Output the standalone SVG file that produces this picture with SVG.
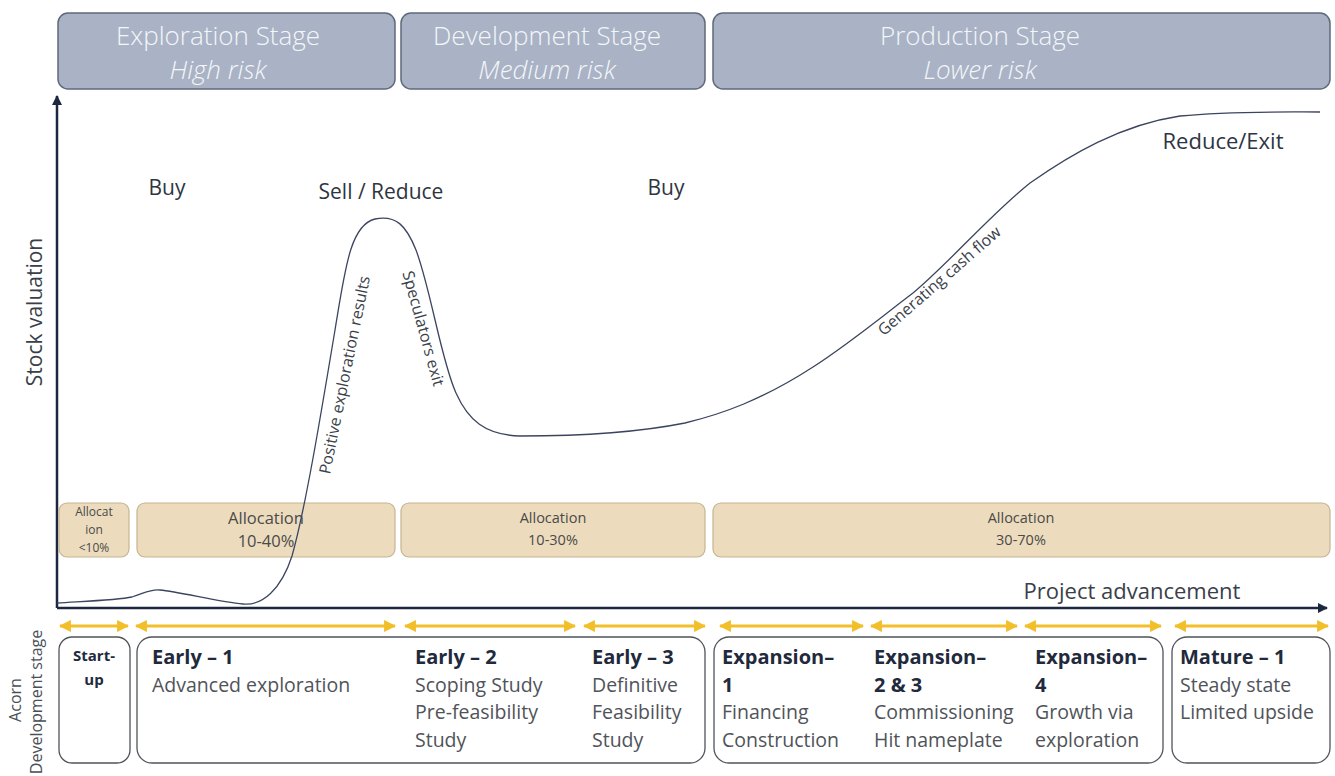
<svg xmlns="http://www.w3.org/2000/svg" width="1335" height="776" viewBox="0 0 1335 776">
<style>
text{font-family:"Open Sans","Liberation Sans",sans-serif;fill:#3a3f4a}
.hdr{fill:#a9b3c5;stroke:#5f6a7c;stroke-width:1.5}
.hdrt{fill:#f4f6f9;font-size:26px;font-weight:300;text-anchor:middle}
.hdri{fill:#f4f6f9;font-size:26px;font-weight:300;text-anchor:middle;font-style:italic}
.alloc{fill:#ecdcbd;stroke:#c6b490;stroke-width:1.2}
.at{font-size:14.5px;text-anchor:middle;fill:#4a4a4a}
.atb{font-size:16.5px;text-anchor:middle;fill:#4a4a4a}
.ats{font-size:12px;text-anchor:middle;fill:#4a4a4a}
.lbl{font-size:21px;fill:#2e3542}
.box{fill:#fff;stroke:#4f535a;stroke-width:1.3}
.b{font-size:20px;font-weight:bold;fill:#1f2a3d}
.r{font-size:19.5px;fill:#505359}
.cl{font-size:16px;fill:#3a3f4a}
.ax{stroke:#1d2740;stroke-width:2.5;fill:none}
.ya{stroke:#f2bf2a;stroke-width:3.2;fill:none;marker-start:url(#yh);marker-end:url(#yh)}
</style>
<defs>
<marker id="ah" viewBox="0 0 10 10" refX="9" refY="5" markerWidth="4" markerHeight="4" orient="auto" markerUnits="strokeWidth"><path d="M0,0 L10,5 L0,10 z" fill="#1d2740"/></marker>
<marker id="yh" viewBox="0 0 10 10" refX="9" refY="5" markerWidth="3.8" markerHeight="3.8" orient="auto-start-reverse" markerUnits="strokeWidth"><path d="M0,0 L10,5 L0,10 z" fill="#f2bf2a"/></marker>
</defs>

<g id="header-exploration">
<rect class="hdr" x="58" y="13" width="337" height="76" rx="10"/>
<text class="hdrt" x="218" y="45">Exploration Stage</text>
<text class="hdri" x="218" y="79">High risk</text>
</g>
<g id="header-development">
<rect class="hdr" x="401" y="13" width="304" height="76" rx="10"/>
<text class="hdrt" x="547" y="45">Development Stage</text>
<text class="hdri" x="547" y="79">Medium risk</text>
</g>
<g id="header-production">
<rect class="hdr" x="713" y="13" width="617" height="76" rx="10"/>
<text class="hdrt" x="980" y="45">Production Stage</text>
<text class="hdri" x="980" y="79">Lower risk</text>
</g>

<g id="axes">
<line class="ax" x1="57" y1="608" x2="57" y2="96" marker-end="url(#ah)"/>
<line class="ax" x1="57" y1="608" x2="1327" y2="608" marker-end="url(#ah)"/>
<text class="lbl" transform="translate(42,312) rotate(-90)" text-anchor="middle" style="fill:#3a3f4a">Stock valuation</text>
<text class="lbl" x="1132" y="599" text-anchor="middle" style="fill:#3a3f4a;font-size:22px">Project advancement</text>
</g>

<g id="allocations">
<g id="alloc-startup">
<rect class="alloc" x="59" y="503" width="70" height="54" rx="8"/>
<text class="ats" x="94" y="516">Allocat</text>
<text class="ats" x="94" y="534">ion</text>
<text class="ats" x="94" y="552">&lt;10%</text>
</g>
<g id="alloc-early1">
<rect class="alloc" x="137" y="503" width="258" height="54" rx="8"/>
<text class="atb" x="266" y="524">Allocation</text>
<text class="atb" x="266" y="547">10-40%</text>
</g>
<g id="alloc-dev">
<rect class="alloc" x="401" y="503" width="304" height="54" rx="8"/>
<text class="at" x="553" y="523">Allocation</text>
<text class="at" x="553" y="545">10-30%</text>
</g>
<g id="alloc-prod">
<rect class="alloc" x="713" y="503" width="617" height="54" rx="8"/>
<text class="at" x="1021" y="523">Allocation</text>
<text class="at" x="1021" y="545">30-70%</text>
</g>
</g>

<g id="valuation-curve">
<path d="M57,603 C90,601 118,600 132,597 C145,593 150,589 160,590 C180,592 220,602 243,604 C262,606 281,590 292,556 C305,510 320,420 335,330 C345,270 350,225 375,219 C396,215 406,225 416,250 C431,290 441,360 456,393 C468,420 485,435 520,436 C585,436 640,432 685,423 C722,414 762,400 813,367 C850,343 880,318 913,293 C950,262 990,215 1030,183 C1070,155 1120,125 1180,116 C1230,111 1280,112 1320,112" fill="none" stroke="#3c4560" stroke-width="1.3"/>
<text class="cl" transform="translate(350,376) rotate(-78.5)" text-anchor="middle">Positive exploration results</text>
<text class="cl" transform="translate(418,330) rotate(74.5)" text-anchor="middle">Speculators exit</text>
<text class="cl" transform="translate(943,285) rotate(-41)" text-anchor="middle">Generating cash flow</text>
</g>

<g id="action-labels">
<text class="lbl" x="167" y="195" text-anchor="middle">Buy</text>
<text class="lbl" x="381" y="199" text-anchor="middle">Sell / Reduce</text>
<text class="lbl" x="666" y="195" text-anchor="middle">Buy</text>
<text class="lbl" x="1223" y="149" text-anchor="middle" style="font-size:22px">Reduce/Exit</text>
</g>

<g id="connectors">
<line class="ya" x1="60" y1="626" x2="128" y2="626"/>
<line class="ya" x1="136" y1="626" x2="395" y2="626"/>
<line class="ya" x1="405" y1="626" x2="575" y2="626"/>
<line class="ya" x1="584" y1="626" x2="705" y2="626"/>
<line class="ya" x1="720" y1="626" x2="863" y2="626"/>
<line class="ya" x1="871" y1="626" x2="1017" y2="626"/>
<line class="ya" x1="1025" y1="626" x2="1161" y2="626"/>
<line class="ya" x1="1175" y1="626" x2="1328" y2="626"/>
</g>

<g id="stage-label">
<text transform="translate(21,700) rotate(-90)" text-anchor="middle" style="font-size:16px;fill:#4a4f58">Acorn</text>
<text transform="translate(42,702) rotate(-90)" text-anchor="middle" style="font-size:16px;fill:#4a4f58">Development stage</text>
</g>

<g id="stage-startup">
<rect class="box" x="59" y="637" width="71" height="126" rx="13"/>
<text x="94" y="661" text-anchor="middle" style="font-size:15px;font-weight:bold;fill:#1f2a3d">Start-</text>
<text x="94" y="685" text-anchor="middle" style="font-size:15px;font-weight:bold;fill:#1f2a3d">up</text>
</g>
<g id="stage-early">
<rect class="box" x="137" y="637" width="568" height="126" rx="15"/>
<text class="b" x="152" y="664">Early – 1</text>
<text class="r" x="152" y="692">Advanced exploration</text>
<text class="b" x="415" y="664">Early – 2</text>
<text class="r" x="415" y="692">Scoping Study</text>
<text class="r" x="415" y="719">Pre-feasibility</text>
<text class="r" x="415" y="747">Study</text>
<text class="b" x="592" y="664">Early – 3</text>
<text class="r" x="592" y="692">Definitive</text>
<text class="r" x="592" y="719">Feasibility</text>
<text class="r" x="592" y="747">Study</text>
</g>
<g id="stage-expansion">
<rect class="box" x="714" y="637" width="449" height="126" rx="15"/>
<text class="b" x="722" y="664">Expansion–</text>
<text class="b" x="722" y="692">1</text>
<text class="r" x="722" y="719">Financing</text>
<text class="r" x="722" y="747">Construction</text>
<text class="b" x="874" y="664">Expansion–</text>
<text class="b" x="874" y="692">2 &amp; 3</text>
<text class="r" x="874" y="719">Commissioning</text>
<text class="r" x="874" y="747">Hit nameplate</text>
<text class="b" x="1035" y="664">Expansion–</text>
<text class="b" x="1035" y="692">4</text>
<text class="r" x="1035" y="719">Growth via</text>
<text class="r" x="1035" y="747">exploration</text>
</g>
<g id="stage-mature">
<rect class="box" x="1172" y="637" width="158" height="126" rx="15"/>
<text class="b" x="1180" y="664">Mature – 1</text>
<text class="r" x="1180" y="692">Steady state</text>
<text class="r" x="1180" y="719">Limited upside</text>
</g>
</svg>
